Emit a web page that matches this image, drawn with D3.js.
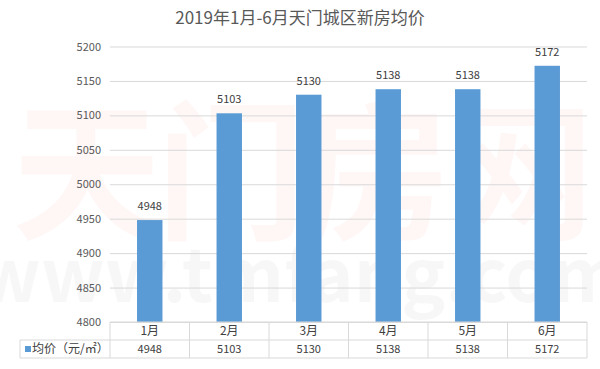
<!DOCTYPE html>
<html>
<head>
<meta charset="utf-8">
<script src="https://cdn.jsdelivr.net/npm/d3@7"></script>
<style>
  body { margin: 0; background: #fff; }
  text { font-family: "Microsoft YaHei", "Noto Sans CJK SC", "Noto Sans", sans-serif; }
</style>
</head>
<body>
<div class="chart"></div>
<script>
const months = ['1月', '2月', '3月', '4月', '5月', '6月'];
const prices = [4948, 5103, 5130, 5138, 5138, 5172];
const yTicks = [4800, 4850, 4900, 4950, 5000, 5050, 5100, 5150, 5200];
const seriesName = '均价（元/㎡）';
const title = '2019年1月-6月天门城区新房均价';

const width = 600;
const height = 369;
const margin = { top: 46.5, right: 13, bottom: 47, left: 110 };
const tableLeft = 20;
const rowH = 18;

const svg = d3.select('.chart')
  .append('svg')
  .attr('width', width)
  .attr('height', height);

// watermark
svg.append('text')
  .attr('x', 300).attr('y', 228)
  .attr('text-anchor', 'middle')
  .attr('font-size', 150)
  .attr('letter-spacing', -6)
  .attr('font-weight', 'bold')
  .attr('fill', 'rgba(255,0,0,0.035)')
  .text('天门房网');
svg.append('text')
  .attr('x', 300).attr('y', 302)
  .attr('text-anchor', 'middle')
  .attr('font-size', 74)
  .attr('font-weight', 'bold')
  .attr('fill', 'rgba(0,0,0,0.03)')
  .text('www.tmfang.com');

const x = d3.scaleBand()
  .domain(months)
  .range([margin.left, width - margin.right])
  .paddingInner(0.68)
  .paddingOuter(0.34);

const xCols = d3.scaleBand()
  .domain(months)
  .range([margin.left, width - margin.right]);

const y = d3.scaleLinear()
  .domain([4800, 5200])
  .range([height - margin.bottom, margin.top]);

svg.append('text')
  .attr('x', 300).attr('y', 24)
  .attr('text-anchor', 'middle')
  .attr('font-size', 17)
  .attr('fill', '#595959')
  .text(title);

const yAxis = d3.axisLeft(y)
  .tickValues(yTicks)
  .tickSize(-(width - margin.left - margin.right))
  .tickPadding(9)
  .tickFormat(d => d + '');

svg.append('g')
  .attr('transform', `translate(${margin.left},0)`)
  .call(yAxis)
  .call(g => g.select('.domain').remove())
  .call(g => g.selectAll('line').attr('stroke', '#d9d9d9'))
  .call(g => g.selectAll('text').attr('fill', '#595959').attr('font-size', 11)
    .style('font-family', '"Microsoft YaHei", "Noto Sans CJK SC", sans-serif'));

svg.append('g')
  .selectAll('rect')
  .data(prices)
  .join('rect')
  .attr('x', (d, i) => x(months[i]))
  .attr('y', d => y(d))
  .attr('width', x.bandwidth())
  .attr('height', d => y(4800) - y(d))
  .attr('fill', '#5b9bd5');

svg.append('g')
  .selectAll('text')
  .data(prices)
  .join('text')
  .attr('x', (d, i) => x(months[i]) + x.bandwidth() / 2)
  .attr('y', d => y(d) - 10)
  .attr('text-anchor', 'middle')
  .attr('font-size', 11)
  .attr('fill', '#404040')
  .text(d => d);

// data table
const t0 = y(4800);
const t1 = t0 + rowH;
const t2 = t1 + rowH;
const right = width - margin.right;
const tbl = svg.append('g').attr('stroke', '#d9d9d9').attr('fill', 'none');
tbl.append('line').attr('x1', margin.left).attr('x2', right).attr('y1', t0).attr('y2', t0);
tbl.append('line').attr('x1', tableLeft).attr('x2', right).attr('y1', t1).attr('y2', t1);
tbl.append('line').attr('x1', tableLeft).attr('x2', right).attr('y1', t2).attr('y2', t2);
tbl.append('line').attr('x1', tableLeft).attr('x2', tableLeft).attr('y1', t1).attr('y2', t2);
tbl.selectAll('.col')
  .data(months)
  .join('line')
  .attr('x1', d => xCols(d)).attr('x2', d => xCols(d))
  .attr('y1', t0).attr('y2', t2);
tbl.append('line').attr('x1', right).attr('x2', right).attr('y1', t0).attr('y2', t2);

svg.append('g')
  .selectAll('text')
  .data(months)
  .join('text')
  .attr('x', d => xCols(d) + xCols.bandwidth() / 2)
  .attr('y', t0 + rowH / 2 + 4)
  .attr('text-anchor', 'middle')
  .attr('font-size', 12)
  .attr('fill', '#404040')
  .text(d => d);

svg.append('g')
  .selectAll('text')
  .data(prices)
  .join('text')
  .attr('x', (d, i) => xCols(months[i]) + xCols.bandwidth() / 2)
  .attr('y', t1 + rowH / 2 + 4)
  .attr('text-anchor', 'middle')
  .attr('font-size', 11)
  .attr('fill', '#404040')
  .text(d => d);

svg.append('rect')
  .attr('x', 25).attr('y', t1 + rowH / 2 - 3)
  .attr('width', 6).attr('height', 6)
  .attr('fill', '#5b9bd5');
svg.append('text')
  .attr('x', 32).attr('y', t1 + rowH / 2 + 4)
  .attr('font-size', 12)
  .attr('fill', '#404040')
  .text(seriesName);
</script>
</body>
</html>
